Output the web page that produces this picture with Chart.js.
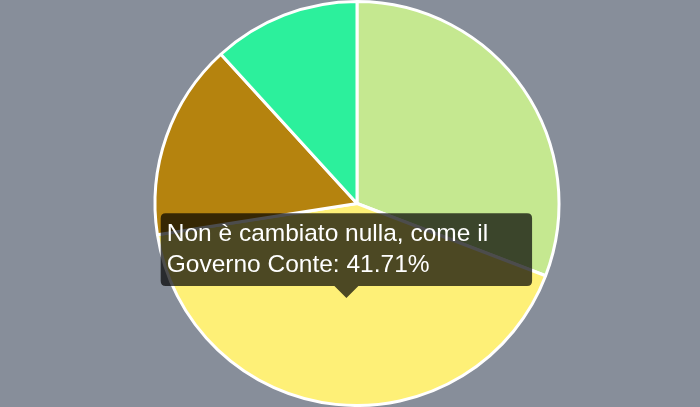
<!DOCTYPE html>
<html>
<head>
<meta charset="utf-8">
<script src="https://cdn.jsdelivr.net/npm/chart.js@4"></script>
<style>
  html, body { margin: 0; padding: 0; background: #878e9a; }
  #wrap { width: 700px; height: 407px; position: relative; }
</style>
</head>
<body>
<div id="wrap"><canvas id="c"></canvas></div>
<script>
const categories = [
  ['È migliorato rispetto al', 'Governo Conte'],
  ['Non è cambiato nulla, come il', 'Governo Conte'],
  ['È peggiorato rispetto al', 'Governo Conte'],
  ['Non so']
];
const values = [30.82, 41.71, 15.7, 11.77];
const colors = ['#c5e890', '#fef077', '#b5830e', '#2cf09c'];
const activeIndex = 1;

const chart = new Chart(document.getElementById('c'), {
  type: 'pie',
  data: {
    labels: categories,
    datasets: [{
      data: values,
      backgroundColor: colors,
      hoverBackgroundColor: colors,
      borderColor: '#ffffff',
      borderWidth: 3,
      hoverBorderColor: '#ffffff',
      hoverBorderWidth: 3,
      hoverOffset: 0
    }]
  },
  options: {
    responsive: true,
    maintainAspectRatio: false,
    animation: false,
    layout: { padding: { left: 14, right: 0, top: 0, bottom: 0 } },
    plugins: {
      legend: { display: false },
      tooltip: {
        enabled: true,
        displayColors: false,
        backgroundColor: 'rgba(0,0,0,0.7)',
        bodyFont: { family: 'Liberation Sans, Arial, sans-serif', size: 24.5 },
        bodyColor: '#ffffff',
        padding: { left: 6, right: 44, top: 6, bottom: 6 },
        caretSize: 12,
        caretPadding: 6,
        cornerRadius: 5,
        xAlign: 'center',
        yAlign: 'bottom',
        callbacks: {
          title: () => '',
          label: (ctx) => {
            const lab = ctx.chart.data.labels[ctx.dataIndex];
            const lines = Array.isArray(lab) ? lab.slice() : [lab];
            lines[lines.length - 1] += ': ' + ctx.parsed.toFixed(2) + '%';
            return lines;
          }
        }
      }
    }
  }
});

const ca = chart.chartArea;
chart.tooltip.setActiveElements([{ datasetIndex: 0, index: activeIndex }], {
  x: (ca.left + ca.right) / 2, y: (ca.top + ca.bottom) / 2
});
chart.update();
</script>
</body>
</html>
